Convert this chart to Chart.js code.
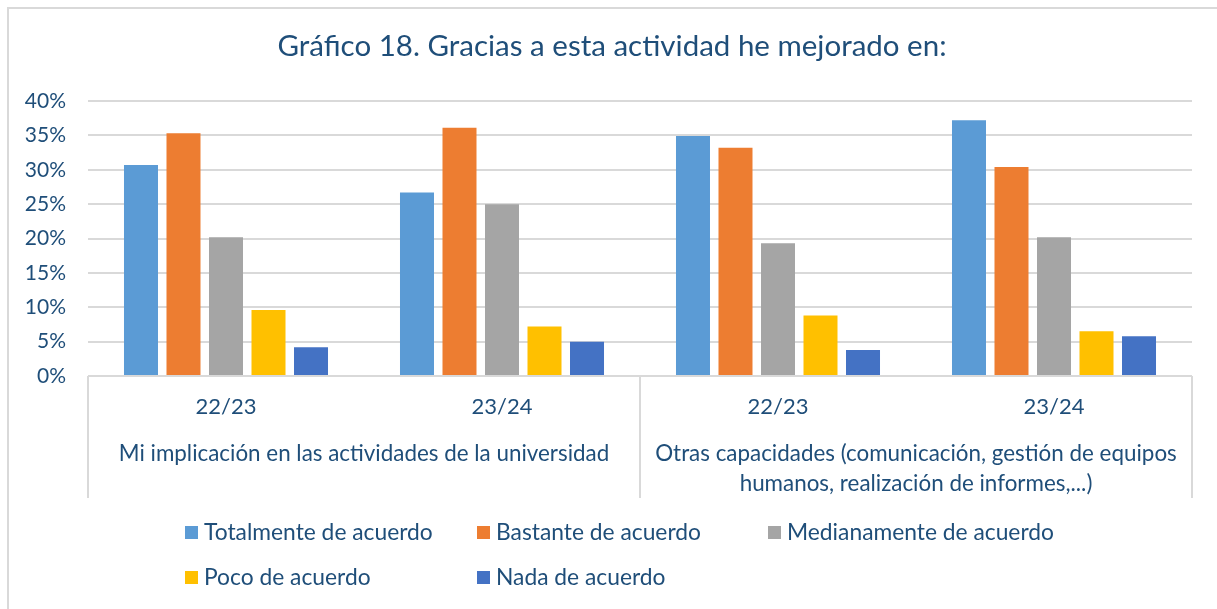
<!DOCTYPE html>
<html>
<head>
<meta charset="utf-8">
<script src="https://cdn.jsdelivr.net/npm/chart.js@4/dist/chart.umd.min.js"></script>
<style>
  html, body { margin: 0; padding: 0; background: #fff; }
  #wrap { width: 1217px; height: 609px; position: relative; }
</style>
</head>
<body>
<div id="wrap"><canvas id="chart"></canvas></div>
<script>
const chartTitle = 'Gráfico 18. Gracias a esta actividad he mejorado en:';
const categories = ['22/23', '23/24', '22/23', '23/24'];
const groupLabels = [
  ['Mi implicación en las actividades de la universidad'],
  ['Otras capacidades (comunicación, gestión de equipos', 'humanos, realización de informes,...)']
];
const seriesNames = ['Totalmente de acuerdo', 'Bastante de acuerdo', 'Medianamente de acuerdo', 'Poco de acuerdo', 'Nada de acuerdo'];
const seriesColors = ['#5B9BD5', '#ED7D31', '#A5A5A5', '#FFC000', '#4472C4'];
const totalmente = [30.7, 26.7, 34.9, 37.2];
const bastante = [35.3, 36.1, 33.2, 30.4];
const medianamente = [20.2, 25.0, 19.3, 20.2];
const poco = [9.6, 7.2, 8.8, 6.5];
const nada = [4.2, 5.0, 3.8, 5.8];
const yTicks = [0, 5, 10, 15, 20, 25, 30, 35, 40];

const textColor = '#1F4E79';
const gridColor = '#D9D9D9';
const fontFamily = 'Lato, "Noto Sans", sans-serif';

const seriesValues = [totalmente, bastante, medianamente, poco, nada];

// frame, title, two-level category labels and the legend
const decorations = {
  id: 'decorations',
  beforeDraw(chart) {
    const ctx = chart.ctx;
    ctx.save();
    ctx.strokeStyle = gridColor;
    ctx.lineWidth = 2;
    ctx.beginPath();
    ctx.moveTo(8, chart.height);
    ctx.lineTo(8, 8);
    ctx.lineTo(chart.width, 8);
    ctx.stroke();
    ctx.restore();
  },
  afterDraw(chart) {
    const ctx = chart.ctx;
    const x = chart.scales.x;
    const area = chart.chartArea;
    ctx.save();
    ctx.fillStyle = textColor;
    ctx.textAlign = 'center';
    ctx.textBaseline = 'middle';

    ctx.font = `29.5px ${fontFamily}`;
    ctx.fillText(chartTitle, 612, 46);

    ctx.font = `22px ${fontFamily}`;
    categories.forEach((c, i) => ctx.fillText(c, x.getPixelForValue(i), 407));

    // group dividers
    const half = (x.getPixelForValue(1) - x.getPixelForValue(0)) / 2;
    const edges = [x.getPixelForValue(0) - half, x.getPixelForValue(1) + half, x.getPixelForValue(3) + half];
    ctx.strokeStyle = gridColor;
    ctx.lineWidth = 2;
    edges.forEach(e => {
      ctx.beginPath();
      ctx.moveTo(Math.round(e), area.bottom);
      ctx.lineTo(Math.round(e), 498);
      ctx.stroke();
    });

    ctx.font = `22.4px ${fontFamily}`;
    groupLabels.forEach((lines, g) => {
      const cx = (x.getPixelForValue(g * 2) + x.getPixelForValue(g * 2 + 1)) / 2;
      lines.forEach((line, j) => ctx.fillText(line, cx, 454 + j * 30));
    });

    // legend
    const legendX = [185, 477, 768, 185, 477];
    const legendY = [533, 533, 533, 578, 578];
    ctx.font = `22.8px ${fontFamily}`;
    ctx.textAlign = 'left';
    seriesNames.forEach((name, i) => {
      ctx.fillStyle = seriesColors[i];
      ctx.fillRect(legendX[i], legendY[i] - 7, 13, 13);
      ctx.fillStyle = textColor;
      ctx.fillText(name, legendX[i] + 19, legendY[i]);
    });
    ctx.restore();
  }
};

new Chart(document.getElementById('chart'), {
  type: 'bar',
  data: {
    labels: categories,
    datasets: seriesNames.map((name, i) => ({
      label: name,
      data: seriesValues[i],
      backgroundColor: seriesColors[i],
      borderWidth: 0,
      categoryPercentage: 0.77,
      barPercentage: 0.8
    }))
  },
  options: {
    responsive: true,
    maintainAspectRatio: false,
    animation: false,
    layout: { padding: { top: 101, right: 25, bottom: 233, left: 0 } },
    plugins: {
      legend: { display: false },
      title: { display: false },
      tooltip: { enabled: false }
    },
    scales: {
      x: {
        afterFit: scale => { scale.height = 0; },
        ticks: { display: false },
        grid: { display: false },
        border: { display: false }
      },
      y: {
        min: yTicks[0],
        max: yTicks[yTicks.length - 1],
        afterBuildTicks: scale => { scale.ticks = yTicks.map(v => ({ value: v })); },
        afterFit: scale => { scale.width = 88; },
        ticks: {
          padding: 22,
          color: textColor,
          font: { family: fontFamily, size: 21 },
          callback: v => v + '%'
        },
        grid: { color: gridColor, lineWidth: 2, drawTicks: false },
        border: { display: false }
      }
    }
  },
  plugins: [decorations]
});
</script>
</body>
</html>
